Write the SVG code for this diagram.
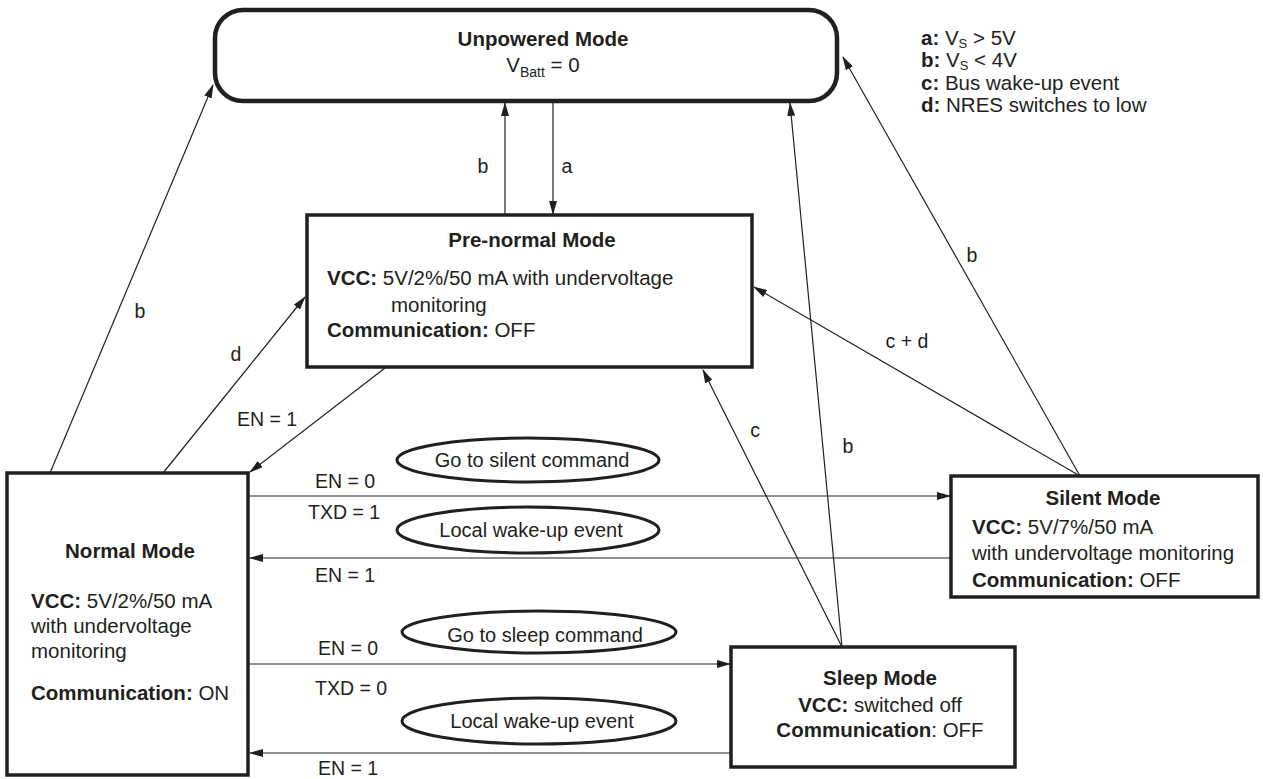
<svg xmlns="http://www.w3.org/2000/svg" width="1263" height="779" viewBox="0 0 1263 779">
<style>
text{font-family:"Liberation Sans",Arial,Helvetica,sans-serif;fill:#231f20}
.t{font-size:20.5px}
.l{font-size:19.5px}
.e{font-size:20px}
.b{font-weight:bold}
.mid{text-anchor:middle}
.box{fill:#fff;stroke:#231f20;stroke-width:3.5}
.ell{fill:none;stroke:#231f20;stroke-width:3}
.c{stroke:#231f20;stroke-width:1.2;fill:none;marker-end:url(#ah)}
</style>
<defs>
<marker id="ah" markerUnits="userSpaceOnUse" markerWidth="14" markerHeight="8" refX="13" refY="4" orient="auto">
<path d="M0,0 L14,4 L0,8 z" fill="#231f20"/>
</marker>
</defs>
<rect width="1263" height="779" fill="#fff"/>

<g id="connectors">
<line class="c" x1="50" y1="473" x2="213" y2="85"/>
<line class="c" x1="163" y1="473" x2="305" y2="297"/>
<line class="c" x1="385" y1="368" x2="250" y2="472"/>
<line class="c" x1="505" y1="215" x2="505" y2="103"/>
<line class="c" x1="553" y1="103" x2="553" y2="214"/>
<line class="c" x1="249" y1="496" x2="950" y2="496"/>
<line class="c" x1="950" y1="558" x2="250" y2="558"/>
<line class="c" x1="249" y1="664" x2="730" y2="664"/>
<line class="c" x1="730" y1="753" x2="250" y2="753"/>
<line class="c" x1="842" y1="647" x2="703" y2="370"/>
<line class="c" x1="842" y1="647" x2="790" y2="103"/>
<line class="c" x1="1080" y1="476" x2="754" y2="287"/>
<line class="c" x1="1080" y1="476" x2="843" y2="57"/>
<text class="l mid" x="140" y="318">b</text>
<text class="l mid" x="236" y="361">d</text>
<text class="l" x="237" y="426">EN = 1</text>
<text class="l mid" x="483" y="173">b</text>
<text class="l mid" x="567" y="173">a</text>
<text class="l" x="315" y="488">EN = 0</text>
<text class="l" x="308" y="519">TXD = 1</text>
<text class="l" x="315" y="582">EN = 1</text>
<text class="l" x="318" y="655">EN = 0</text>
<text class="l" x="315" y="695">TXD = 0</text>
<text class="l" x="318" y="775">EN = 1</text>
<text class="l mid" x="907" y="348">c + d</text>
<text class="l mid" x="972" y="262">b</text>
<text class="l mid" x="755" y="437">c</text>
<text class="l mid" x="848" y="453">b</text>
</g>

<g id="ev-silent">
<ellipse class="ell" cx="528" cy="460" rx="131" ry="22"/>
<text class="e mid" x="532" y="467">Go to silent command</text>
</g>
<g id="ev-wake1">
<ellipse class="ell" cx="528" cy="530" rx="131" ry="23"/>
<text class="e mid" x="531" y="537">Local wake-up event</text>
</g>
<g id="ev-sleep">
<ellipse class="ell" cx="539" cy="632" rx="137" ry="21"/>
<text class="e mid" x="545" y="642">Go to sleep command</text>
</g>
<g id="ev-wake2">
<ellipse class="ell" cx="539" cy="721" rx="137" ry="23"/>
<text class="e mid" x="542" y="728">Local wake-up event</text>
</g>

<g id="unpowered">
<rect x="215" y="10" width="622" height="91" rx="28" ry="28" fill="#fff" stroke="#231f20" stroke-width="4.5"/>
<text class="t b mid" x="543" y="46">Unpowered Mode</text>
<text class="t mid" x="543" y="72">V<tspan font-size="14" dy="5">Batt</tspan><tspan dy="-5"> = 0</tspan></text>
</g>

<g id="prenormal">
<rect class="box" x="307" y="215" width="445" height="152"/>
<text class="t b mid" x="532" y="247">Pre-normal Mode</text>
<text class="t" x="327" y="285"><tspan class="b">VCC:</tspan> 5V/2%/50 mA with undervoltage</text>
<text class="t" x="391" y="312">monitoring</text>
<text class="t" x="327" y="337"><tspan class="b">Communication:</tspan> OFF</text>
</g>

<g id="normal">
<rect class="box" x="7" y="473" width="241" height="302"/>
<text class="t b mid" x="130" y="558">Normal Mode</text>
<text class="t" x="31" y="608"><tspan class="b">VCC:</tspan> 5V/2%/50 mA</text>
<text class="t" x="31" y="633">with undervoltage</text>
<text class="t" x="31" y="658">monitoring</text>
<text class="t" x="31" y="700"><tspan class="b">Communication:</tspan> ON</text>
</g>

<g id="silent">
<rect class="box" x="951" y="476" width="307" height="121"/>
<text class="t b mid" x="1103" y="505">Silent Mode</text>
<text class="t" x="972" y="534"><tspan class="b">VCC:</tspan> 5V/7%/50 mA</text>
<text class="t" x="972" y="560">with undervoltage monitoring</text>
<text class="t" x="972" y="587"><tspan class="b">Communication:</tspan> OFF</text>
</g>

<g id="sleep">
<rect class="box" x="731" y="647" width="284" height="120"/>
<text class="t b mid" x="880" y="685">Sleep Mode</text>
<text class="t mid" x="880" y="712"><tspan class="b">VCC:</tspan> switched off</text>
<text class="t mid" x="880" y="737"><tspan class="b">Communication</tspan>: OFF</text>
</g>

<g id="legend">
<text class="t" x="921" y="45"><tspan class="b">a:</tspan> V<tspan font-size="13" dy="3">S</tspan><tspan dy="-3"> &gt; 5V</tspan></text>
<text class="t" x="921" y="67"><tspan class="b">b:</tspan> V<tspan font-size="13" dy="3">S</tspan><tspan dy="-3"> &lt; 4V</tspan></text>
<text class="t" x="921" y="90"><tspan class="b">c:</tspan> Bus wake-up event</text>
<text class="t" x="921" y="112"><tspan class="b">d:</tspan> NRES switches to low</text>
</g>
</svg>
